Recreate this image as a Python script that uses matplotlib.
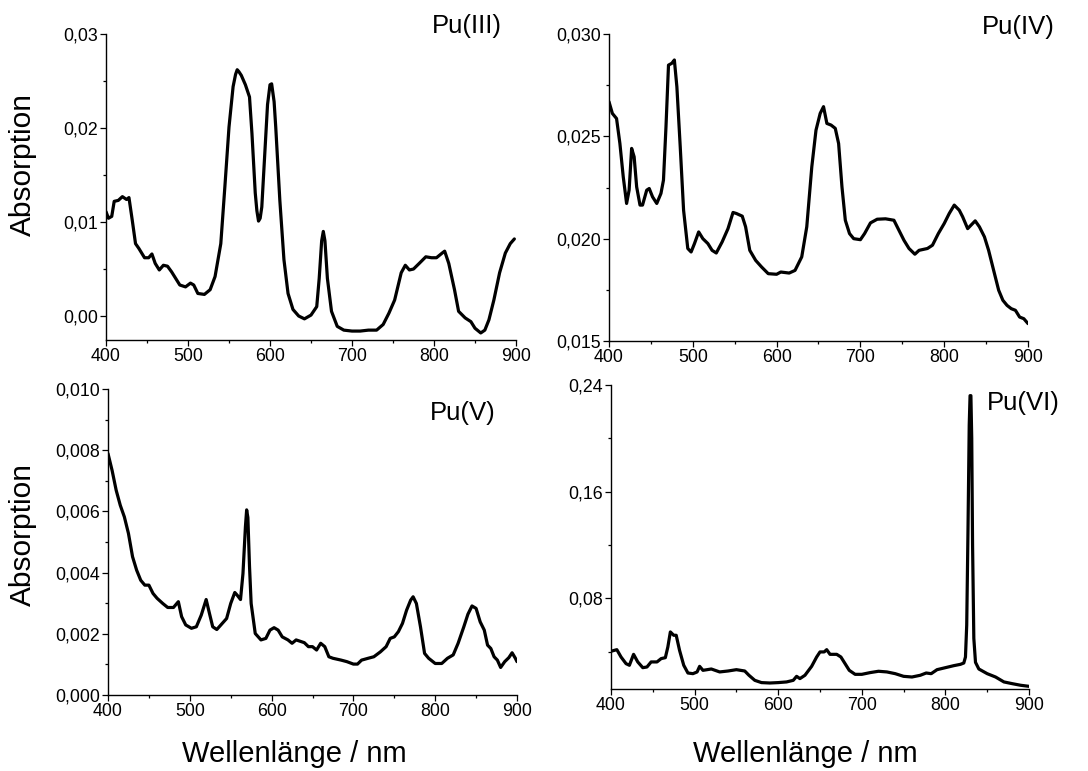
import matplotlib
matplotlib.use("Agg")
import matplotlib.pyplot as plt
from matplotlib.ticker import MultipleLocator, FuncFormatter

plt.rcParams['font.family'] = ['Liberation Sans', 'DejaVu Sans']

# ---------------- data ----------------
pu3_wl = [400, 403, 407, 410, 415, 420, 425, 428, 432, 436, 440, 447, 452, 456, 460, 465, 470, 475,
          480, 490, 497, 503, 507, 512, 520, 527, 533, 540, 545, 550, 555, 558, 560, 562, 565, 570,
          575, 578, 582, 584, 586, 588, 590, 595, 597, 600, 602, 605, 607, 612, 617, 622, 628, 635,
          642, 650, 657, 660, 663, 665, 667, 670, 675, 682, 690, 700, 710, 720, 730, 738, 745, 752,
          760, 765, 770, 775, 782, 790, 797, 803, 810, 813, 818, 825, 830, 838, 845, 850, 857, 862,
          867, 873, 880, 887, 893, 898]
pu3_abs = [0.0111, 0.0104, 0.0106, 0.0122, 0.0123, 0.0127, 0.0124, 0.0126, 0.0102, 0.0077, 0.0072,
           0.0062, 0.0062, 0.0066, 0.0056, 0.0049, 0.0054, 0.0053, 0.0047, 0.0033, 0.0031, 0.0035,
           0.0033, 0.0024, 0.0023, 0.0028, 0.0042, 0.0077, 0.0138, 0.0201, 0.0244, 0.0257, 0.0262,
           0.0260, 0.0256, 0.0246, 0.0233, 0.0194, 0.0131, 0.0112, 0.0101, 0.0104, 0.0116, 0.0194,
           0.0225, 0.0246, 0.0247, 0.0228, 0.0201, 0.0123, 0.0060, 0.0024, 0.0007, 0.0000, -0.0003,
           0.0001, 0.0010, 0.0040, 0.0080, 0.0090, 0.0080, 0.0040, 0.0005, -0.0011, -0.0015,
           -0.0016, -0.0016, -0.0015, -0.0015, -0.0009, 0.0003, 0.0017, 0.0046, 0.0054, 0.0049,
           0.0050, 0.0056, 0.0063, 0.0062, 0.0062, 0.0067, 0.0069, 0.0056, 0.0028, 0.0005, -0.0002,
           -0.0006, -0.0013, -0.0018, -0.0015, -0.0004, 0.0017, 0.0046, 0.0067, 0.0077, 0.0082]

pu4_wl = [400, 404, 409, 413, 417, 421, 424, 427, 430, 433, 437, 440, 445, 448, 452, 457, 462, 465,
          468, 471, 475, 478, 481, 485, 489, 494, 498, 502, 507, 512, 518, 523, 528, 535, 542, 548,
          552, 559, 563, 568, 575, 582, 590, 600, 605, 615, 622, 630, 636, 642, 647, 652, 656, 660,
          665, 670, 674, 678, 682, 687, 692, 700, 705, 712, 720, 730, 740, 745, 752, 758, 765, 770,
          780, 786, 793, 800, 806, 812, 818, 822, 828, 832, 837, 842, 848, 853, 860, 865, 870, 875,
          880, 885, 890, 895, 900]
pu4_abs = [0.02669, 0.02612, 0.02587, 0.02465, 0.02302, 0.02172, 0.02237, 0.02441, 0.02400, 0.02253,
           0.02164, 0.02164, 0.02237, 0.02245, 0.02204, 0.02172, 0.02221, 0.02286, 0.02547, 0.02848,
           0.02857, 0.02873, 0.02742, 0.02449, 0.02139, 0.01952, 0.01935, 0.01976, 0.02033, 0.02000,
           0.01976, 0.01943, 0.01930, 0.01984, 0.02049, 0.02128, 0.02123, 0.02110, 0.02058, 0.01943,
           0.01894, 0.01862, 0.01829, 0.01826, 0.01837, 0.01832, 0.01845, 0.01911, 0.02058, 0.02351,
           0.02530, 0.02612, 0.02645, 0.02563, 0.02555, 0.02539, 0.02465, 0.02253, 0.02090, 0.02025,
           0.02000, 0.01995, 0.02025, 0.02077, 0.02095, 0.02097, 0.02090, 0.02049, 0.01992, 0.01952,
           0.01924, 0.01943, 0.01952, 0.01968, 0.02025, 0.02074, 0.02123, 0.02164, 0.02139, 0.02107,
           0.02049, 0.02066, 0.02087, 0.02058, 0.02009, 0.01943, 0.01829, 0.01748, 0.01699, 0.01674,
           0.01658, 0.01650, 0.01617, 0.01609, 0.01585]

pu5_wl = [400, 405, 410, 415, 420, 425, 430, 435, 440, 445, 450, 455, 460, 467, 473, 480, 486, 490,
          495, 502, 508, 514, 520, 524, 528, 533, 538, 545, 550, 555, 558, 562, 565, 568, 569.5, 571,
          573, 575, 580, 587, 593, 598, 603, 608, 613, 620, 625, 630, 640, 645, 650, 655, 660, 665,
          670, 675, 685, 692, 700, 705, 710, 718, 725, 733, 740, 745, 750, 755, 760, 765, 770, 773,
          777, 782, 787, 792, 800, 808, 815, 822, 828, 835, 840, 845, 850, 855, 860, 864, 868, 872,
          876, 880, 885, 890, 894, 898, 900]
pu5_abs = [0.00789, 0.00734, 0.00669, 0.00620, 0.00582, 0.00528, 0.00452, 0.00408, 0.00375, 0.00359,
           0.00359, 0.00332, 0.00316, 0.00299, 0.00286, 0.00286, 0.00305, 0.00256, 0.00229, 0.00218,
           0.00223, 0.00261, 0.00312, 0.00267, 0.00223, 0.00214, 0.00229, 0.00250, 0.00299, 0.00335,
           0.00326, 0.00312, 0.00397, 0.00550, 0.00605, 0.00580, 0.00420, 0.00299, 0.00201, 0.00180,
           0.00185, 0.00212, 0.00220, 0.00212, 0.00190, 0.00180, 0.00169, 0.00180, 0.00171, 0.00158,
           0.00158, 0.00147, 0.00169, 0.00158, 0.00125, 0.00120, 0.00114, 0.00109, 0.00101, 0.00101,
           0.00114, 0.00120, 0.00125, 0.00141, 0.00158, 0.00185, 0.00190, 0.00207, 0.00234, 0.00277,
           0.00310, 0.00321, 0.00299, 0.00223, 0.00136, 0.00120, 0.00103, 0.00103, 0.00120, 0.00131,
           0.00169, 0.00223, 0.00264, 0.00291, 0.00283, 0.00239, 0.00212, 0.00163, 0.00152, 0.00125,
           0.00114, 0.00090, 0.00109, 0.00122, 0.00138, 0.00120, 0.00109]

pu6_wl = [400, 407, 412, 418, 422, 427, 432, 438, 443, 448, 455, 460, 465, 468, 471, 475, 478, 482,
          487, 492, 498, 503, 506, 510, 520, 530, 540, 550, 560, 565, 572, 580, 590, 600, 610, 618,
          622, 626, 632, 640, 646, 650, 655, 658, 662, 670, 675, 680, 685, 692, 700, 710, 720, 730,
          740, 750, 760, 770, 777, 783, 790, 800, 810, 818, 822, 824, 825.5, 827, 828.5, 829.5,
          830.5, 831.5, 832.5, 834, 836, 840, 850, 860, 870, 880, 890, 900]
pu6_abs = [0.0403, 0.0415, 0.0360, 0.0310, 0.0298, 0.0380, 0.0323, 0.0280, 0.0285, 0.0323, 0.0323,
           0.0348, 0.0355, 0.0435, 0.0548, 0.0523, 0.0523, 0.0410, 0.0298, 0.0240, 0.0235, 0.0248,
           0.0290, 0.0260, 0.0270, 0.0248, 0.0255, 0.0265, 0.0255, 0.0223, 0.0185, 0.0168, 0.0165,
           0.0168, 0.0173, 0.0185, 0.0215, 0.0198, 0.0223, 0.0290, 0.0360, 0.0398, 0.0398, 0.0415,
           0.0380, 0.0380, 0.0360, 0.0310, 0.0260, 0.0230, 0.0230, 0.0243, 0.0253, 0.0248, 0.0235,
           0.0215, 0.0210, 0.0223, 0.0240, 0.0235, 0.0265, 0.0280, 0.0295, 0.0305, 0.0315, 0.0360,
           0.0600, 0.1300, 0.2100, 0.2320, 0.2320, 0.2000, 0.1200, 0.0500, 0.0320, 0.0270, 0.0235,
           0.0210, 0.0173, 0.0160, 0.0148, 0.0140]

labels = ["Pu(III)", "Pu(IV)", "Pu(V)", "Pu(VI)"]
x_ticks = [400, 500, 600, 700, 800, 900]

# ---------------- figure ----------------
W, H = 1088, 771
fig = plt.figure(figsize=(W / 100, H / 100), dpi=100)


def axbox(l, r, t, b):
    return [l / W, 1 - b / H, (r - l) / W, (b - t) / H]


panels = [
    dict(box=axbox(106, 516, 34, 340), x=pu3_wl, y=pu3_abs, ylim=(-0.00255, 0.030),
         major=0.01, minor=0.005, fmt="{:.2f}", lab=(432, 26)),
    dict(box=axbox(609, 1028, 34, 341), x=pu4_wl, y=pu4_abs, ylim=(0.015, 0.030),
         major=0.005, minor=0.0025, fmt="{:.3f}", lab=(982, 27)),
    dict(box=axbox(108, 517, 389, 695), x=pu5_wl, y=pu5_abs, ylim=(0.0, 0.010),
         major=0.002, minor=0.001, fmt="{:.3f}", lab=(430, 413)),
    dict(box=axbox(611, 1029, 385, 689), x=pu6_wl, y=pu6_abs, ylim=(0.012, 0.24),
         major=0.08, minor=0.04, fmt="{:.2f}", lab=(987, 403)),
]

for p, lab in zip(panels, labels):
    ax = fig.add_axes(p["box"])
    ax.plot(p["x"], p["y"], color="black", lw=2.3, solid_joinstyle="round", solid_capstyle="round")
    ax.set_xlim(400, 900)
    ax.spines["top"].set_visible(False)
    ax.spines["right"].set_visible(False)
    for s in ("left", "bottom"):
        ax.spines[s].set_linewidth(1.0)
    ax.set_xticks(x_ticks)
    ax.xaxis.set_minor_locator(MultipleLocator(50))
    ax.yaxis.set_major_locator(MultipleLocator(p["major"]))
    ax.yaxis.set_minor_locator(MultipleLocator(p["minor"]))
    f = p["fmt"]
    ax.yaxis.set_major_formatter(FuncFormatter(
        lambda v, pos, f=f: f.format(v + 0.0).replace("-0", "0").replace(".", ",")))
    ax.tick_params(which="major", direction="out", length=4.3, width=0.9, labelsize=12.8, pad=1.5)
    ax.tick_params(which="minor", direction="out", length=2.4, width=0.9)
    ax.set_ylim(*p["ylim"])
    fig.text(p["lab"][0] / W, 1 - p["lab"][1] / H, lab, fontsize=18.5, ha="left", va="center")

fig.text(23 / W, 1 - 164 / H, "Absorption", rotation=90, fontsize=21.5, ha="center", va="center")
fig.text(23 / W, 1 - 534 / H, "Absorption", rotation=90, fontsize=21.5, ha="center", va="center")
fig.text(294 / W, 1 - 754 / H, "Wellenlänge / nm", fontsize=21, ha="center", va="center")
fig.text(805 / W, 1 - 754 / H, "Wellenlänge / nm", fontsize=21, ha="center", va="center")

fig.savefig("out.png", dpi=100)
